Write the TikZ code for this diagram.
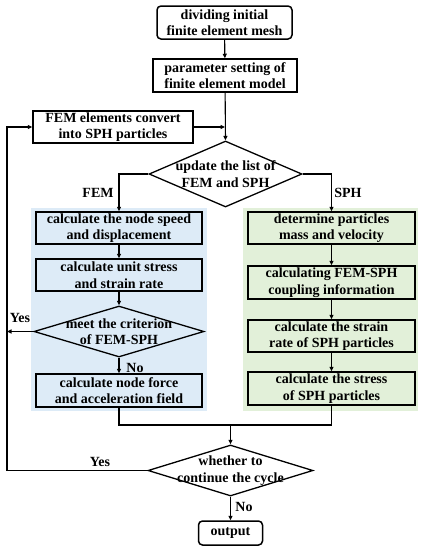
\documentclass[tikz,border=0pt]{standalone}
\usepackage{fontspec}
\setmainfont{Liberation Serif}
\usetikzlibrary{arrows.meta,shapes.geometric}
\definecolor{bluebg}{HTML}{DDEBF7}
\definecolor{greenbg}{HTML}{E2F0D9}
\begin{document}
\begin{tikzpicture}[x=1pt,y=-1pt,
  txt/.style={font=\fontsize{14}{16.5}\selectfont\bfseries},
  box/.style={txt,draw,line width=1.5pt,align=center,inner sep=0pt},
  rbox/.style={box,rounded corners=4pt},
  dia/.style={draw,line width=1.3pt,diamond,inner sep=0pt},
  dtext/.style={txt,align=center},
  lbl/.style={txt},
  line/.style={line width=1.1pt},
  arr/.style={line,-{Triangle[length=4.5pt,width=4pt]}}]
\useasboundingbox (0,0) rectangle (424,550);
% backgrounds
\fill[bluebg] (31,208) rectangle (207,411);
\fill[greenbg] (243,208) rectangle (418,411);
% nodes
\node[rbox,minimum width=135pt,minimum height=33pt] (n1) at (224.5,22.5) {dividing initial\\finite element mesh};
\node[box,minimum width=144pt,minimum height=33pt] (n2) at (225,75.5) {parameter setting of\\finite element model};
\node[box,minimum width=160pt,minimum height=32pt] (conv) at (113,127) {FEM elements convert\\into SPH particles};
\node[dia,minimum width=153pt,minimum height=66pt] (d1) at (225.5,174) {};
\node[dtext] at (d1.center) {update the list of\\FEM and SPH};
\node[box,fill=bluebg,minimum width=166pt,minimum height=32pt] (b1) at (119,228) {calculate the node speed\\and displacement};
\node[box,fill=bluebg,minimum width=166pt,minimum height=32pt] (b2) at (119,275) {calculate unit stress\\and strain rate};
\node[dia,fill=bluebg,minimum width=170pt,minimum height=51pt] (d2) at (119,331.5) {};
\node[dtext] at (d2.center) {meet the criterion\\of FEM-SPH};
\node[box,fill=bluebg,minimum width=166pt,minimum height=33pt] (b3) at (119,390.5) {calculate node force\\and acceleration field};
\node[box,fill=greenbg,minimum width=167pt,minimum height=32pt] (g1) at (331.5,228) {determine particles\\mass and velocity};
\node[box,fill=greenbg,minimum width=167pt,minimum height=33pt] (g2) at (331.5,282.5) {calculating FEM-SPH\\coupling information};
\node[box,fill=greenbg,minimum width=167pt,minimum height=32pt] (g3) at (331.5,336) {calculate the strain\\rate of SPH particles};
\node[box,fill=greenbg,minimum width=167pt,minimum height=33pt] (g4) at (331.5,388.5) {calculate the stress\\of SPH particles};
\node[dia,fill=white,minimum width=165pt,minimum height=51pt] (d3) at (230.5,470.5) {};
\node[dtext] at (d3.center) {whether to\\continue the cycle};
\node[rbox,minimum width=64pt,minimum height=24pt] (out) at (230.5,533) {output};
% labels
\node[lbl] (lfem) at (98,193) {FEM};
\node[lbl] (lsph) at (348,193) {SPH};
\node[lbl] (ly1) at (20,318) {Yes};
\node[lbl] (ln1) at (135,368) {No};
\node[lbl] (ly2) at (100,462) {Yes};
\node[lbl] (ln2) at (244,507) {No};
% coordinates
\coordinate (mj) at (225,127);
\coordinate (mg) at (230.5,425);
\coordinate (lp) at (7,470.5);
% connectors
\draw[arr] (n1) -- (n2);
\draw[arr] (n2) -- (d1.north);
\draw[arr] (conv.east) -- (mj);
\draw[arr] (d1.west) -| (b1.north);
\draw[arr] (d1.east) -| (g1.north);
\draw[arr] (b1) -- (b2);
\draw[arr] (b2) -- (d2.north);
\draw[arr] (d2.south) -- (b3.north);
\draw[arr] (g1) -- (g2);
\draw[arr] (g2) -- (g3);
\draw[arr] (g3) -- (g4);
\draw[line] (b3.south) |- (mg);
\draw[line] (g4.south) |- (mg);
\draw[arr] (mg) -- (d3.north);
\draw[arr] (d3.west) -- (lp) |- (conv.west);
\draw[arr] (d2.west) -- (d2.west -| lp);
\draw[arr] (d3.south) -- (out.north);
\end{tikzpicture}
\end{document}
